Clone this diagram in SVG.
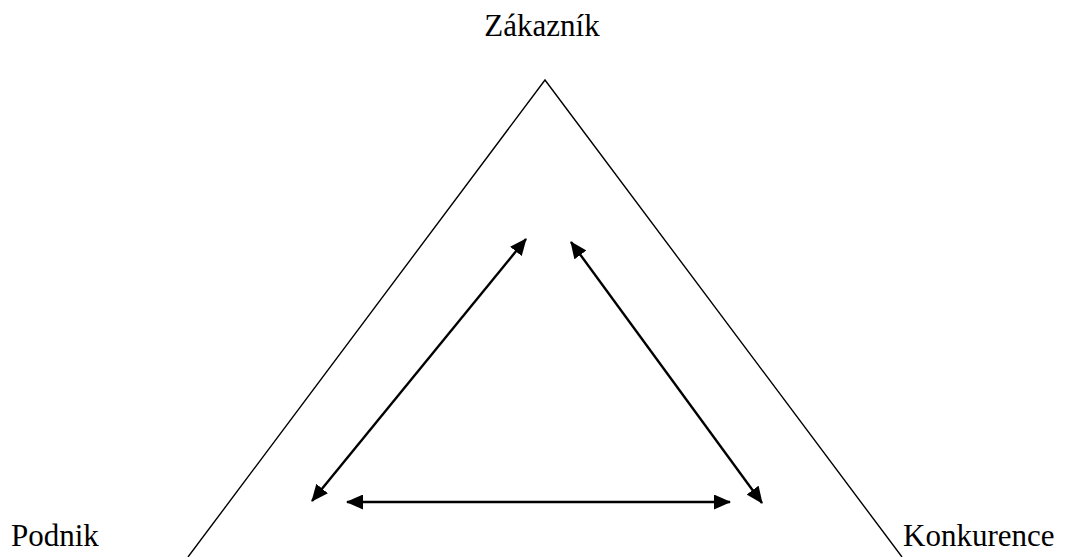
<svg xmlns="http://www.w3.org/2000/svg" width="1066" height="557" viewBox="0 0 1066 557">
<style>
text{font-family:'Liberation Serif','DejaVu Serif',serif;font-size:31px;fill:#000}
.tri{fill:none;stroke:#000;stroke-width:1.4}
.arr{stroke:#000;stroke-width:2.4;fill:none;marker-start:url(#ah);marker-end:url(#ah)}
</style>
<defs>
<marker id="ah" viewBox="0 0 17 15" refX="16" refY="7.5" markerWidth="17" markerHeight="15" markerUnits="userSpaceOnUse" orient="auto-start-reverse">
<path d="M0,0 L17,7.5 L0,15 z" fill="#000"/>
</marker>
</defs>
<rect width="1066" height="557" fill="#fff"/>
<g id="triangle">
<polyline class="tri" points="188,557 545,80 902,557"/>
</g>
<g id="zakaznik"><text x="542" y="36" text-anchor="middle">Zákazník</text></g>
<g id="podnik"><text x="11" y="546">Podnik</text></g>
<g id="konkurence"><text x="903" y="546">Konkurence</text></g>
<g id="connectors">
<line class="arr" x1="312" y1="501" x2="526" y2="239"/>
<line class="arr" x1="571" y1="242" x2="762" y2="503"/>
<line class="arr" x1="347" y1="502" x2="730" y2="502"/>
</g>
</svg>
